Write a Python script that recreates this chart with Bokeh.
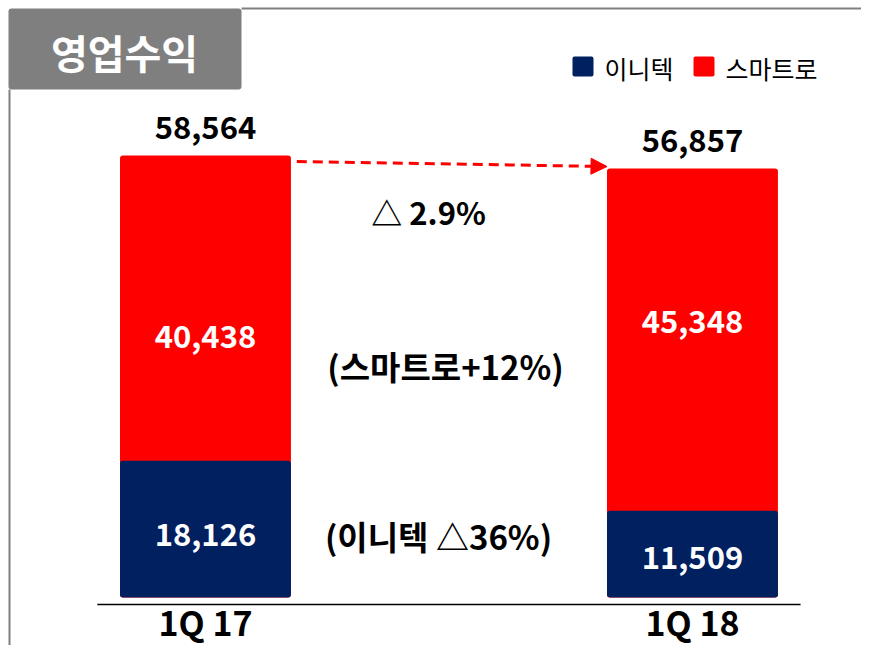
from bokeh.plotting import figure
from bokeh.models import Range1d, ColumnDataSource, Label, BoxAnnotation, Arrow, NormalHead
from bokeh.core.properties import value
from bokeh.embed import file_html
from bokeh.resources import INLINE

# ---- data ----
categories = ["1Q 17", "1Q 18"]
series_names = ["이니텍", "스마트로"]
initech = [18126, 11509]
smartro = [40438, 45348]
change_total = "△ 2.9%"
change_smartro = "(스마트로+12%)"
change_initech = "(이니텍 △36%)"
title_text = "영업수익"

NAVY = "#002060"
RED = "#FF0000"
GRAY = "#7F7F7F"
FONT = "Noto Sans CJK KR"

W, H = 861, 645
xs = list(range(len(categories)))
totals = [a + b for a, b in zip(initech, smartro)]

src = ColumnDataSource(dict(
    x=xs, cat=categories,
    initech=initech, smartro=smartro, totals=totals,
    zero=[0] * len(xs),
    tot_lbl=[f"{v:,}" for v in totals],
    ini_lbl=[f"{v:,}" for v in initech],
    sma_lbl=[f"{v:,}" for v in smartro],
    ini_mid=[v / 2 for v in initech],
    sma_mid=[a + b / 2 for a, b in zip(initech, smartro)],
    sma_dy=[28, -18],
    ini_dy=[5, 3],
))

p = figure(width=W, height=H, output_backend="svg", toolbar_location=None,
           x_range=Range1d(-0.4209, 1.3471), y_range=Range1d(-6360, 79102),
           x_axis_location=None, y_axis_location=None, min_border=0)
p.grid.visible = False
p.outline_line_color = None
p.background_fill_color = "white"
p.border_fill_color = "white"

BW = 0.351
p.vbar(x="x", bottom="zero", top="totals", width=BW, source=src,
       fill_color=RED, line_color=None, border_radius=3)
p.vbar(x="x", bottom="zero", top="initech", width=BW, source=src,
       fill_color=NAVY, line_color=None, border_radius=3)

# baseline
p.segment(x0=[xs[0] - 0.222], x1=[xs[-1] + 0.222], y0=[-930], y1=[-930],
          line_color="black", line_width=1.5)

# value labels
p.text(x="x", y="totals", text="tot_lbl", source=src, y_offset=-28,
       text_align="center", text_baseline="middle", text_font=value(FONT),
       text_font_style="bold", text_font_size="31px", text_color="black")
p.text(x="x", y="sma_mid", text="sma_lbl", source=src, y_offset="sma_dy",
       text_align="center", text_baseline="middle", text_font=value(FONT),
       text_font_style="bold", text_font_size="31px", text_color="white")
p.text(x="x", y="ini_mid", text="ini_lbl", source=src, y_offset="ini_dy",
       text_align="center", text_baseline="middle", text_font=value(FONT),
       text_font_style="bold", text_font_size="31px", text_color="white")
p.text(x="x", y="zero", text="cat", source=src, y_offset=24,
       text_align="center", text_baseline="middle", text_font=value(FONT),
       text_font_style="bold", text_font_size="34px", text_color="black")

# dashed arrow between totals
p.add_layout(Arrow(end=NormalHead(size=16, fill_color=RED, line_color=RED, line_width=1),
                   x_start=xs[0] + BW / 2 + 0.012, y_start=totals[0] - 800,
                   x_end=xs[1] - BW / 2, y_end=totals[1] + 250,
                   line_color=RED, line_width=3, line_dash="10 6"))

def lbl(text, x, y, size, color="black", style="bold", align="center", baseline="middle"):
    p.add_layout(Label(x=x, y=H - y, x_units="screen", y_units="screen", text=text,
                       text_font=FONT, text_font_size=size, text_font_style=style,
                       text_color=color, text_align=align, text_baseline=baseline))

def box(left, right, top, bottom, color, radius=0):
    p.add_layout(BoxAnnotation(left=left, right=right, top=H - top, bottom=H - bottom,
                               left_units="screen", right_units="screen",
                               top_units="screen", bottom_units="screen",
                               fill_color=color, fill_alpha=1, line_color=None,
                               border_radius=radius))

# middle annotations
lbl(change_total, 428, 211, "31px")
lbl(change_smartro, 445, 365, "33px")
lbl(change_initech, 438, 535, "33px")

# frame decorations
box(241, W, 7, 9, "#808080")
box(8, 10, 89, H, "#808080")
box(8, 241, 8, 89, GRAY, radius=3)
lbl(title_text, 124, 51, "40px", color="white")

# legend
leg_colors = [NAVY, RED]
leg_left = [572, 693]
for name, col, lx in zip(series_names, leg_colors, leg_left):
    box(lx, lx + 21, 56, 76, col, radius=2)
    lbl(name, lx + 32, 67, "25px", style="normal", align="left")

open("out.html", "w").write(file_html(p, INLINE))
